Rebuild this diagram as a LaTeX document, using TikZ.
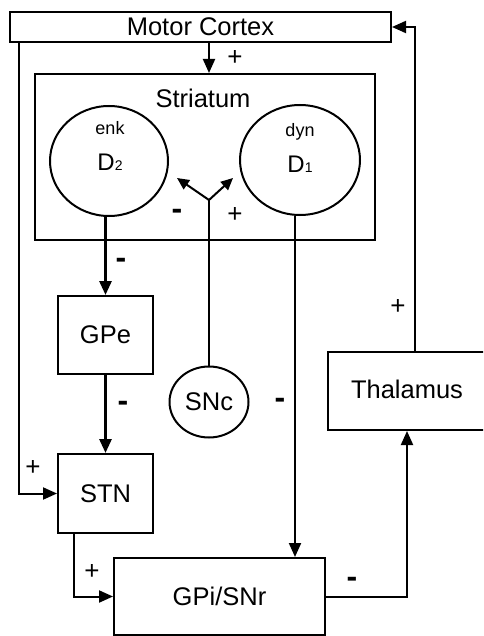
\documentclass[tikz,border=0pt]{standalone}
\usepackage{fontspec}
\setmainfont{Liberation Sans}
\usetikzlibrary{arrows.meta,shapes.geometric}
\tikzset{
  box/.style={draw, line width=2pt, rectangle, inner sep=0pt, font=\fontsize{25.5}{28}\selectfont},
  cell/.style={draw, line width=2pt, ellipse, inner sep=0pt},
  lbl/.style={inner sep=0pt},
  conn/.style={line width=2pt, line join=miter, -{Triangle[length=14pt,width=12pt]}},
  thick conn/.style={conn, line width=2.8pt},
  plain/.style={line width=2pt},
  yarr/.style={line width=2pt, -{Triangle[length=12pt,width=11pt]}},
  plus/.style={inner sep=0pt, font=\fontsize{26}{26}\selectfont},
  minus/.style={inner sep=0pt, font=\fontsize{32}{32}\selectfont\bfseries},
}
\begin{document}
\begin{tikzpicture}[x=1pt, y=-1pt]
\useasboundingbox (0,0) rectangle (483,636);
\clip (0,0) rectangle (483,636);
\fill[white] (0,0) rectangle (483,636);

% blocks
\node[box, minimum width=381pt, minimum height=30pt] (mc) at (200.5,27) {Motor Cortex};
\node[box, minimum width=340pt, minimum height=166pt] (str) at (205,157) {};
\node[lbl, font=\fontsize{25.5}{28}\selectfont] (strl) at (203,98) {Striatum};
\node[cell, minimum width=118pt, minimum height=110pt] (d2) at (109,161) {};
\node[cell, minimum width=120pt, minimum height=110pt] (d1) at (300,160) {};
\node[lbl, font=\fontsize{18}{18}\selectfont] (enk) at (110,128) {enk};
\node[lbl, font=\fontsize{18}{18}\selectfont] (dyn) at (300,132) {dyn};
\node[lbl, anchor=base, font=\fontsize{24}{24}\selectfont] (d2l) at (110,171) {D{\fontsize{14}{14}\selectfont 2}};
\node[lbl, anchor=base, font=\fontsize{24}{24}\selectfont] (d1l) at (300,173) {D{\fontsize{14}{14}\selectfont 1}};
\node[box, minimum width=95pt, minimum height=78pt] (gpe) at (105.5,335) {GPe};
\node[cell, minimum width=79pt, minimum height=71pt, font=\fontsize{25.5}{28}\selectfont] (snc) at (209,402) {SNc};
\node[box, minimum width=95pt, minimum height=79pt] (stn) at (105.5,493.5) {STN};
\node[box, minimum width=211pt, minimum height=77pt] (gpi) at (219.5,596.5) {GPi/SNr};
\node[box, minimum width=162pt, minimum height=78pt] (thal) at (409,391) {};
\node[lbl, font=\fontsize{25.5}{28}\selectfont] (thall) at (407,389) {Thalamus};

% helper coordinates
\coordinate (xl) at (19,0);
\coordinate (xr) at (415,0);
\coordinate (xd1) at (295,0);
\coordinate (xstn) at (74,0);
\coordinate (xth) at (407,0);
\coordinate (yj) at (209,200);
\coordinate (yl) at (177,178);
\coordinate (yr) at (233,178);

% connectors
\draw[conn] (mc.south -| snc) -- (str.north -| snc);
\draw[conn] (mc.south -| xl) -- (stn.west -| xl) -- (stn.west);
\draw[conn] (thal.north -| xr) -- (mc.east -| xr) -- (mc.east);
\draw[thick conn] (gpe.north |- d2.south) -- (gpe.north);
\draw[thick conn] (gpe.south) -- (stn.north);
\draw[conn] (d1.south -| xd1) -- (gpi.north -| xd1);
\draw[conn] (stn.south -| xstn) -- (gpi.west -| xstn) -- (gpi.west);
\draw[conn] (gpi.east) -- (gpi.east -| xth) -- (thal.south -| xth);
\draw[plain] (snc.north) -- (yj);
\draw[yarr] (yj) -- (yl);
\draw[yarr] (yj) -- (yr);

% signs
\node[plus] (p1) at (235,58) {+};
\node[minus] (m1) at (121,263) {-};
\node[minus] (m2) at (123,406) {-};
\node[plus] (p2) at (33,468) {+};
\node[plus] (p3) at (92,572) {+};
\node[minus] (m3) at (280,403) {-};
\node[minus] (m4) at (352,582) {-};
\node[plus] (p4) at (398,307) {+};
\node[minus] (m5) at (177,214) {-};
\node[plus] (p5) at (235,215) {+};
\end{tikzpicture}
\end{document}
